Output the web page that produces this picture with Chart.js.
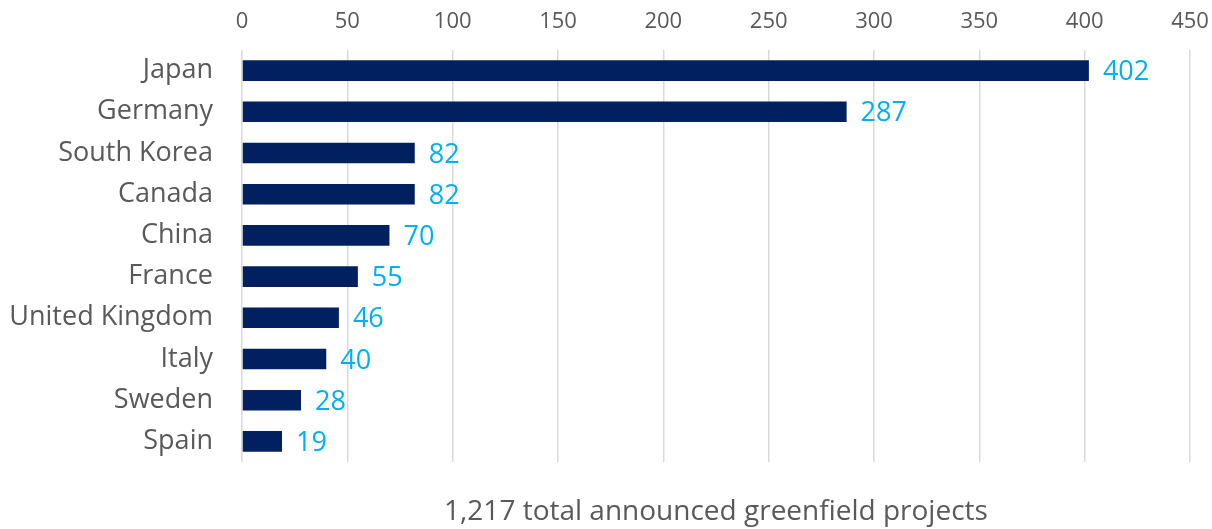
<!DOCTYPE html>
<html>
<head>
<meta charset="utf-8">
<script src="https://cdn.jsdelivr.net/npm/chart.js@4.4.0/dist/chart.umd.min.js"></script>
<style>
  html, body { margin: 0; padding: 0; background: #fff; }
  #wrap { width: 1212px; height: 529px; }
</style>
</head>
<body>
<div id="wrap"><canvas id="fdi-chart"></canvas></div>
<script>
// countries and number of announced projects
var countries = ['Japan', 'Germany', 'South Korea', 'Canada', 'China', 'France', 'United Kingdom', 'Italy', 'Sweden', 'Spain'];
var projects = [402, 287, 82, 82, 70, 55, 46, 40, 28, 19];
var axisMax = 450;
var axisStep = 50;
var totalNote = '1,217 total announced greenfield projects';

var textGray = '#595959';
var fontName = '"Open Sans", Lato, sans-serif';

// value labels right of each bar
var barLabels = {
    id: 'barLabels',
    afterDatasetsDraw: function(chart) {
        var ctx = chart.ctx;
        var meta = chart.getDatasetMeta(0);
        ctx.save();
        ctx.font = '27px ' + fontName;
        ctx.fillStyle = '#00b0f0';
        ctx.textAlign = 'left';
        ctx.textBaseline = 'middle';
        meta.data.forEach(function(bar, i) {
            ctx.fillText(projects[i], bar.x + 14, bar.y + 2);
        });
        ctx.restore();
    }
};

var ctx = document.getElementById('fdi-chart').getContext('2d');
var chart = new Chart(ctx, {
    type: 'bar',
    data: {
        labels: countries,
        datasets: [{
            label: 'Projects',
            data: projects,
            backgroundColor: '#002060',
            barPercentage: 0.5,
            categoryPercentage: 1
        }]
    },
    options: {
        indexAxis: 'y',
        responsive: true,
        maintainAspectRatio: false,
        animation: false,
        layout: { padding: { left: 0, right: 22, top: 0, bottom: 0 } },
        plugins: {
            legend: { display: false },
            tooltip: { enabled: false }
        },
        scales: {
            x: {
                position: 'top',
                min: 0,
                max: axisMax,
                ticks: {
                    stepSize: axisStep,
                    color: textGray,
                    font: { family: fontName, size: 22 },
                    padding: 15
                },
                grid: { color: '#d9d9d9', lineWidth: 1.5, drawTicks: false },
                border: { display: false },
                afterFit: function(scale) {
                    scale.height = 50;
                    scale.paddingLeft = 0;
                    scale.paddingRight = 0;
                }
            },
            x2: {
                position: 'bottom',
                display: true,
                ticks: { display: false },
                grid: { display: false, drawTicks: false },
                border: { display: false },
                title: {
                    display: true,
                    text: totalNote,
                    color: textGray,
                    font: { family: fontName, size: 28 },
                    padding: { top: 0, bottom: 0 }
                },
                afterFit: function(scale) {
                    scale.height = 67;
                    scale.paddingLeft = 0;
                    scale.paddingRight = 0;
                }
            },
            y: {
                ticks: {
                    color: textGray,
                    font: { family: fontName, size: 27 },
                    padding: 29
                },
                grid: { display: false, drawTicks: false },
                border: { display: false },
                afterFit: function(scale) { scale.width = 242; }
            }
        }
    },
    plugins: [barLabels]
});
</script>
</body>
</html>
